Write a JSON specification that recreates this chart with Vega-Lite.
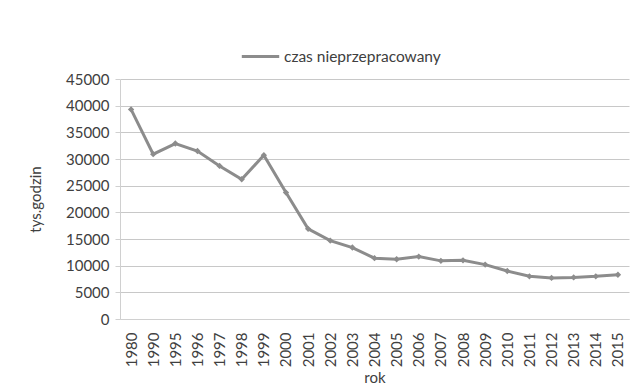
{
  "$schema": "https://vega.github.io/schema/vega-lite/v6.json",
  "autosize": "none",
  "width": 509,
  "height": 240,
  "padding": {"left": 120, "top": 79, "right": 14, "bottom": 70},
  "background": "white",
  "config": {
    "font": "Lato",
    "view": {"stroke": null},
    "axis": {
      "labelFont": "Lato",
      "titleFont": "Lato",
      "labelColor": "#404040",
      "titleColor": "#404040",
      "labelFontSize": 15,
      "titleFontSize": 15,
      "titleFontWeight": "normal"
    },
    "legend": {"labelFont": "Lato", "labelFontSize": 15.5, "labelColor": "#404040"}
  },
  "data": {
    "values": [
      {"rok": "1980", "wartosc": 39300, "seria": "czas nieprzepracowany"},
      {"rok": "1990", "wartosc": 30900, "seria": "czas nieprzepracowany"},
      {"rok": "1995", "wartosc": 32900, "seria": "czas nieprzepracowany"},
      {"rok": "1996", "wartosc": 31500, "seria": "czas nieprzepracowany"},
      {"rok": "1997", "wartosc": 28700, "seria": "czas nieprzepracowany"},
      {"rok": "1998", "wartosc": 26200, "seria": "czas nieprzepracowany"},
      {"rok": "1999", "wartosc": 30700, "seria": "czas nieprzepracowany"},
      {"rok": "2000", "wartosc": 23700, "seria": "czas nieprzepracowany"},
      {"rok": "2001", "wartosc": 16900, "seria": "czas nieprzepracowany"},
      {"rok": "2002", "wartosc": 14700, "seria": "czas nieprzepracowany"},
      {"rok": "2003", "wartosc": 13400, "seria": "czas nieprzepracowany"},
      {"rok": "2004", "wartosc": 11400, "seria": "czas nieprzepracowany"},
      {"rok": "2005", "wartosc": 11200, "seria": "czas nieprzepracowany"},
      {"rok": "2006", "wartosc": 11700, "seria": "czas nieprzepracowany"},
      {"rok": "2007", "wartosc": 10900, "seria": "czas nieprzepracowany"},
      {"rok": "2008", "wartosc": 11000, "seria": "czas nieprzepracowany"},
      {"rok": "2009", "wartosc": 10200, "seria": "czas nieprzepracowany"},
      {"rok": "2010", "wartosc": 9000, "seria": "czas nieprzepracowany"},
      {"rok": "2011", "wartosc": 8000, "seria": "czas nieprzepracowany"},
      {"rok": "2012", "wartosc": 7700, "seria": "czas nieprzepracowany"},
      {"rok": "2013", "wartosc": 7800, "seria": "czas nieprzepracowany"},
      {"rok": "2014", "wartosc": 8000, "seria": "czas nieprzepracowany"},
      {"rok": "2015", "wartosc": 8300, "seria": "czas nieprzepracowany"}
    ]
  },
  "mark": {
    "type": "line",
    "strokeWidth": 3,
    "point": {"shape": "diamond", "size": 40, "filled": true}
  },
  "encoding": {
    "x": {
      "field": "rok",
      "type": "ordinal",
      "scale": {"type": "point", "padding": 0.5},
      "axis": {
        "title": "rok",
        "labelAngle": -90,
        "labelAlign": "right",
        "labelBaseline": "middle",
        "labelPadding": 13,
        "ticks": false,
        "domainColor": "#d0d0d0",
        "titlePadding": 4
      }
    },
    "y": {
      "field": "wartosc",
      "type": "quantitative",
      "scale": {"domain": [0, 45000], "nice": false},
      "axis": {
        "title": "tys.godzin",
        "values": [0, 5000, 10000, 15000, 20000, 25000, 30000, 35000, 40000, 45000],
        "format": "d",
        "gridColor": "#c8c8c8",
        "domainColor": "#d0d0d0",
        "tickColor": "#d0d0d0",
        "tickSize": 5,
        "labelPadding": 6,
        "titlePadding": 22
      }
    },
    "color": {
      "field": "seria",
      "type": "nominal",
      "scale": {"range": ["#8c8c8c"]},
      "legend": {
        "title": null,
        "orient": "none",
        "legendX": 120,
        "legendY": -43,
        "symbolType": "stroke",
        "symbolStrokeWidth": 3,
        "symbolSize": 1400,
        "labelOffset": 3
      }
    }
  }
}
